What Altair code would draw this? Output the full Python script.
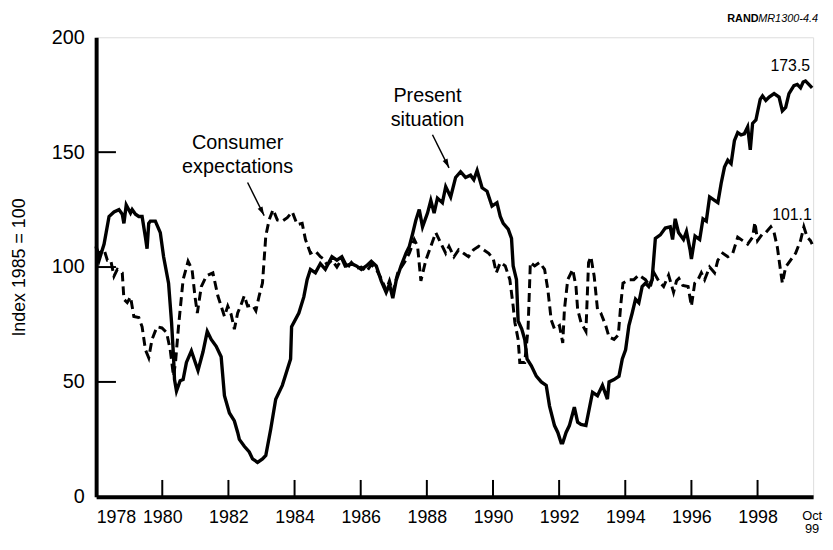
import altair as alt
import pandas as pd

# ---- data -------------------------------------------------------------------
PS_YEARS = [1978.00, 1978.09, 1978.24, 1978.39, 1978.54, 1978.69, 1978.79, 1978.84, 1978.91, 1979.04,
            1979.09, 1979.19, 1979.29, 1979.39, 1979.49, 1979.54, 1979.59, 1979.64, 1979.79, 1979.94,
            1980.04, 1980.19, 1980.28, 1980.34, 1980.37, 1980.43, 1980.54, 1980.63, 1980.73, 1980.88,
            1981.08, 1981.23, 1981.36, 1981.48, 1981.63, 1981.78, 1981.88, 1982.03, 1982.18, 1982.28,
            1982.33, 1982.48, 1982.63, 1982.73, 1982.88, 1983.03, 1983.13, 1983.28, 1983.43, 1983.63,
            1983.88, 1983.91, 1984.13, 1984.28, 1984.38, 1984.48, 1984.63, 1984.78, 1984.93, 1985.13,
            1985.28, 1985.43, 1985.57, 1985.72, 1985.87, 1986.02, 1986.17, 1986.32, 1986.47, 1986.62,
            1986.77, 1986.87, 1986.97, 1987.07, 1987.22, 1987.37, 1987.47, 1987.57, 1987.67, 1987.77,
            1987.87, 1988.02, 1988.12, 1988.22, 1988.32, 1988.47, 1988.57, 1988.72, 1988.87, 1989.02,
            1989.17, 1989.32, 1989.42, 1989.52, 1989.67, 1989.82, 1989.97, 1990.12, 1990.22, 1990.31,
            1990.46, 1990.56, 1990.61, 1990.71, 1990.76, 1990.87, 1990.96, 1991.03, 1991.16, 1991.31,
            1991.46, 1991.61, 1991.71, 1991.86, 1991.96, 1992.06, 1992.11, 1992.21, 1992.31, 1992.46,
            1992.56, 1992.66, 1992.81, 1993.01, 1993.16, 1993.31, 1993.46, 1993.51, 1993.66, 1993.81,
            1993.91, 1994.01, 1994.11, 1994.21, 1994.31, 1994.41, 1994.51, 1994.61, 1994.71, 1994.81,
            1994.91, 1995.06, 1995.21, 1995.36, 1995.43, 1995.51, 1995.61, 1995.76, 1995.85, 1995.96,
            1996.00, 1996.11, 1996.25, 1996.35, 1996.45, 1996.55, 1996.70, 1996.80, 1996.90, 1997.00,
            1997.10, 1997.20, 1997.30, 1997.40, 1997.50, 1997.60, 1997.70, 1997.78, 1997.85, 1997.95,
            1998.00, 1998.08, 1998.15, 1998.25, 1998.35, 1998.50, 1998.65, 1998.75, 1998.85, 1998.95,
            1999.10, 1999.20, 1999.30, 1999.38, 1999.45, 1999.55, 1999.65]
PS_VALUES = [109, 103, 110, 122, 124, 125, 123, 119, 127, 123.5,
             125, 123, 122, 122, 113, 108, 119, 120, 120, 115,
             104.5, 93, 76, 61, 51, 46, 50.5, 51, 58.5, 63.5,
             55, 63, 72, 68.5, 65.5, 61, 44, 36.5, 33, 28,
             25, 22, 19.5, 16.5, 15, 16.5, 18, 29.5, 42.5, 48.5,
             60, 74, 80, 87, 94.5, 99, 97.5, 101.5, 99, 104.5,
             103, 104.5, 100.5, 101.5, 100.5, 99, 100.5, 102.5, 100.5, 94,
             89, 92.5, 86.5, 94, 100.5, 106, 109, 114.5, 120.5, 125,
             117.5, 123.5, 129, 123.5, 130, 128, 135, 130.5, 139, 141.5,
             139, 140, 138, 142, 134.5, 133, 126.5, 128, 122, 119,
             116.5, 112.5, 100.5, 94.5, 76.5, 73, 68.5, 60, 57, 52.5,
             50, 48.5, 39.5, 31, 28, 23.5, 23.5, 28, 31, 39,
             32.5, 31.5, 31, 45.5, 44, 48.5, 42.5, 50, 51, 52.5,
             60, 64, 74.5, 80, 86, 84.5, 91.5, 93, 91.5, 94.5,
             112.5, 114, 117, 117.5, 112, 121, 115, 112, 115.5, 107.5,
             103.5, 113.5, 112, 121, 120, 130.5, 129, 128, 136.5, 143.5,
             146.5, 145, 155, 158.5, 157.5, 158, 161, 151, 162.5, 164,
             167.5, 173, 174.5, 172.5, 174, 175.5, 174, 168, 169.5, 175.5,
             179, 179.5, 178, 180.5, 181, 179.5, 178]

CE_YEARS = [1978.00, 1978.09, 1978.24, 1978.34, 1978.44, 1978.54, 1978.64, 1978.79, 1978.84, 1978.94,
            1979.04, 1979.14, 1979.29, 1979.39, 1979.49, 1979.59, 1979.69, 1979.84, 1979.99, 1980.13,
            1980.24, 1980.34, 1980.40, 1980.49, 1980.63, 1980.78, 1980.90, 1980.99, 1981.06, 1981.18,
            1981.33, 1981.38, 1981.53, 1981.68, 1981.78, 1981.88, 1981.98, 1982.08, 1982.18, 1982.28,
            1982.38, 1982.48, 1982.58, 1982.73, 1982.83, 1982.93, 1983.03, 1983.13, 1983.23, 1983.35,
            1983.48, 1983.63, 1983.78, 1983.93, 1984.08, 1984.23, 1984.33, 1984.48, 1984.63, 1984.78,
            1984.88, 1984.98, 1985.13, 1985.28, 1985.43, 1985.57, 1985.72, 1985.87, 1986.02, 1986.17,
            1986.32, 1986.47, 1986.62, 1986.77, 1986.87, 1986.97, 1987.12, 1987.32, 1987.47, 1987.62,
            1987.72, 1987.82, 1987.97, 1988.12, 1988.27, 1988.42, 1988.57, 1988.67, 1988.82, 1988.96,
            1989.11, 1989.26, 1989.41, 1989.57, 1989.72, 1989.87, 1990.01, 1990.10, 1990.22, 1990.37,
            1990.51, 1990.61, 1990.66, 1990.76, 1990.81, 1990.96, 1991.06, 1991.13, 1991.26, 1991.41,
            1991.56, 1991.66, 1991.76, 1991.86, 1992.01, 1992.11, 1992.16, 1992.26, 1992.41, 1992.51,
            1992.56, 1992.66, 1992.81, 1992.89, 1992.96, 1993.06, 1993.16, 1993.26, 1993.41, 1993.51,
            1993.66, 1993.79, 1993.86, 1993.93, 1994.11, 1994.26, 1994.41, 1994.61, 1994.76, 1994.87,
            1995.01, 1995.16, 1995.31, 1995.46, 1995.55, 1995.62, 1995.74, 1995.90, 1996.00, 1996.10,
            1996.20, 1996.30, 1996.40, 1996.55, 1996.70, 1996.80, 1996.95, 1997.10, 1997.25, 1997.40,
            1997.55, 1997.70, 1997.85, 1997.92, 1998.00, 1998.15, 1998.25, 1998.40, 1998.50, 1998.60,
            1998.68, 1998.75, 1998.85, 1999.00, 1999.15, 1999.30, 1999.40, 1999.50, 1999.60, 1999.65]
CE_VALUES = [108, 106, 107.5, 103, 103, 96, 99, 97.5, 86, 84.5,
             87, 78.5, 78, 74, 64, 60.5, 68.5, 74, 73.5, 71.5,
             64, 52.5, 58.5, 74, 94.5, 102.5, 99, 87, 80, 91.5,
             96, 96.5, 97.5, 87.5, 83, 78.5, 83, 79.5, 73, 80,
             83.5, 87.5, 83, 83.5, 81, 87.5, 93, 113.5, 120.5, 125,
             120.5, 120, 121.5, 124, 118.5, 119, 112, 106, 107, 104.5,
             103.5, 101, 103, 100, 103.5, 99, 102, 99.5, 100, 98,
             101, 99, 95, 90, 94, 89, 97.5, 102, 106, 112,
             109, 94, 103, 109, 115, 110.5, 106, 109, 104.5, 107.5,
             106, 104.5, 107.5, 109, 107.5, 106, 103.5, 97.5, 102, 100.5,
             94.5, 83, 76, 68.5, 58.5, 58.5, 73, 102, 100.5, 102,
             99, 90, 77, 73, 74.5, 67, 81.5, 94.5, 99, 91.5,
             81.5, 76, 72, 102, 104.5, 96, 81.5, 80, 74.5, 69.5,
             68.5, 70.5, 83, 93, 94.5, 94.5, 96.5, 94.5, 91.5, 97.5,
             94, 91.5, 96.5, 89, 94, 95, 92, 91.5, 83, 93,
             94.5, 97.5, 94.5, 100, 97.5, 103, 106, 104.5, 106, 113,
             111.5, 110, 113, 119.5, 111.5, 114.5, 115, 117.5, 115, 108.5,
             100, 93, 100, 103, 106, 111.5, 117.5, 113, 111.5, 110]

X_TICK_LABELS = [1978, 1980, 1982, 1984, 1986, 1988, 1990, 1992, 1994, 1996, 1998]
INNER_X_TICKS = [1980, 1982, 1984, 1986, 1988, 1990, 1992, 1994, 1996, 1998]
Y_TICK_LABELS = [0, 50, 100, 150, 200]
INNER_Y_TICKS = [50, 100, 150]

NOTE_TEXT = ["Consumer", "expectations", "Present", "situation"]
NOTE_YEAR = [1982.28, 1982.28, 1988.02, 1988.02]
NOTE_VALUE = [151.2, 141.1, 172.0, 161.2]

END_TEXT = ["173.5", "101.1"]
END_YEAR = [1998.99, 1999.04]
END_VALUE = [185.3, 120.5]

ARROW_YEAR = [1982.58, 1988.17]
ARROW_VALUE = [136.8, 157.6]
ARROW_YEAR2 = [1983.08, 1988.67]
ARROW_VALUE2 = [122.4, 143.2]
ARROW_ANGLE = [153, 154]

# ---- layout ---------------------------------------------------------------
W, H = 724, 464
X0, X1 = 1978, 1999.68
FONT = "Liberation Sans"
YTICK_LEN = 20 * (X1 - X0) / W      # 20 px, in years
XTICK_LEN = 17 * 200 / H            # 17 px, in index units

ps = pd.DataFrame({"year": PS_YEARS, "value": PS_VALUES})
ce = pd.DataFrame({"year": CE_YEARS, "value": CE_VALUES})
notes = pd.DataFrame({"year": NOTE_YEAR, "value": NOTE_VALUE, "text": NOTE_TEXT})
ends = pd.DataFrame({"year": END_YEAR, "value": END_VALUE, "text": END_TEXT})
arrows = pd.DataFrame({"year": ARROW_YEAR, "value": ARROW_VALUE,
                       "year2": ARROW_YEAR2, "value2": ARROW_VALUE2, "angle": ARROW_ANGLE})

# short inward tick segments, two end points each
tick_rows = []
for v in INNER_Y_TICKS:
    tick_rows.append({"year": float(X0), "value": float(v), "tick": "y%d" % v, "o": 0})
    tick_rows.append({"year": float(X0 + YTICK_LEN), "value": float(v), "tick": "y%d" % v, "o": 1})
for yr in INNER_X_TICKS:
    tick_rows.append({"year": float(yr), "value": 0.0, "tick": "x%d" % yr, "o": 0})
    tick_rows.append({"year": float(yr), "value": float(XTICK_LEN), "tick": "x%d" % yr, "o": 1})
ticks = pd.DataFrame(tick_rows)

xscale = alt.Scale(domain=[X0, X1], nice=False, zero=False)
yscale = alt.Scale(domain=[0, 200], nice=False, zero=True)

x_enc = alt.X("year:Q", scale=xscale, axis=alt.Axis(
    values=X_TICK_LABELS, format="d", ticks=False, tickSize=0, grid=False,
    labelPadding=12, labelFontSize=18, labelFont=FONT, labelColor="black",
    labelFlush=True, labelOverlap=False,
    domainWidth=4, domainColor="black", title=None))
y_enc = alt.Y("value:Q", scale=yscale, axis=alt.Axis(
    values=Y_TICK_LABELS, ticks=False, tickSize=0, grid=False,
    labelPadding=12, labelFontSize=20, labelFont=FONT, labelColor="black",
    domainWidth=4, domainColor="black",
    title="Index 1985 = 100", titleFont=FONT, titleFontSize=18, titleFontWeight="normal",
    titleColor="black", titleAngle=270, titleX=-77, titleY=H / 2,
    titleAlign="center", titleBaseline="middle"))

ce_line = alt.Chart(ce).mark_line(color="black", strokeWidth=3, strokeDash=[9, 5]).encode(
    x=x_enc, y=y_enc)
ps_line = alt.Chart(ps).mark_line(color="black", strokeWidth=3.4).encode(x=x_enc, y=y_enc)

tick_lines = alt.Chart(ticks).mark_line(color="black", strokeWidth=2).encode(
    x=x_enc, y=y_enc, detail="tick:N", order="o:Q")

note_text = alt.Chart(notes).mark_text(
    font=FONT, fontSize=20, color="black", align="center", baseline="alphabetic").encode(
    x=x_enc, y=y_enc, text="text:N")
end_text = alt.Chart(ends).mark_text(
    font=FONT, fontSize=16, color="black", align="center", baseline="alphabetic").encode(
    x=x_enc, y=y_enc, text="text:N")

arrow_line = alt.Chart(arrows).mark_rule(color="black", strokeWidth=1.5).encode(
    x=x_enc, y=y_enc, x2="year2:Q", y2="value2:Q")
arrow_head = alt.Chart(arrows).mark_point(
    shape="M0,0L0.6,2L-0.6,2Z", filled=True, color="black", opacity=1, size=81).encode(
    x=alt.X("year2:Q", scale=xscale), y=alt.Y("value2:Q", scale=yscale),
    angle=alt.Angle("angle:Q", scale=None))

oct_text = alt.Chart(pd.DataFrame({"t": ["Oct"]})).mark_text(
    font=FONT, fontSize=13, color="black", align="center", baseline="alphabetic").encode(
    text="t:N", x=alt.value(W - 1), y=alt.value(487))
yy_text = alt.Chart(pd.DataFrame({"t": ["99"]})).mark_text(
    font=FONT, fontSize=13, color="black", align="center", baseline="alphabetic").encode(
    text="t:N", x=alt.value(W - 1), y=alt.value(501))

rand_text = alt.Chart(pd.DataFrame({"t": ["RAND"]})).mark_text(
    font=FONT, fontSize=11, fontWeight="bold", color="black", align="right",
    baseline="alphabetic").encode(text="t:N", x=alt.value(669), y=alt.value(-15))
mr_text = alt.Chart(pd.DataFrame({"t": ["MR1300-4.4"]})).mark_text(
    font=FONT, fontSize=11, fontStyle="italic", color="black", align="right",
    baseline="alphabetic").encode(text="t:N", x=alt.value(729), y=alt.value(-15))

chart = alt.layer(
    ce_line, ps_line, arrow_line, arrow_head, note_text, end_text,
    oct_text, yy_text, rand_text, mr_text, tick_lines
).properties(
    width=W, height=H,
    autosize=alt.AutoSizeParams(type="none"),
    padding={"left": 89, "top": 27, "right": 12, "bottom": 37},
).configure_view(
    stroke="black", strokeWidth=1.5
).configure(
    font=FONT, background="white"
)

chart.save("out.html", embed_options={"renderer": "svg", "actions": False})
